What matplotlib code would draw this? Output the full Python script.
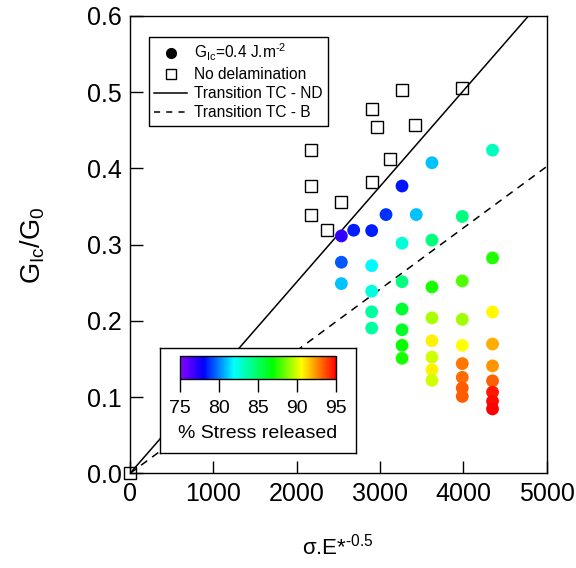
import matplotlib
matplotlib.use('Agg')
import matplotlib.pyplot as plt
import numpy as np
from matplotlib.colors import LinearSegmentedColormap, Normalize
from matplotlib.lines import Line2D

plt.rcParams['font.family'] = ['Liberation Sans', 'DejaVu Sans']
plt.rcParams['mathtext.fontset'] = 'custom'
plt.rcParams['mathtext.rm'] = 'Liberation Sans'
plt.rcParams['mathtext.it'] = 'Liberation Sans'

# points sans delamination (carres vides)
nd_x = [0, 2170, 2170, 2170, 2360, 2536, 2900, 2968, 2900, 3120, 3264, 3420, 3987]
nd_y = [0.0, 0.424, 0.377, 0.339, 0.319, 0.356, 0.4775, 0.454, 0.382, 0.413, 0.503, 0.457, 0.505]

# points Glc = 0.4 J.m-2 (cercles colores)
gc_x = [2536, 2536, 2536,
        2684,
        2900, 2900, 2900, 2900, 2900,
        3072,
        3264, 3264, 3264, 3264, 3264, 3264, 3264,
        3435,
        3623, 3623, 3623, 3623, 3623, 3623, 3623, 3623,
        3987, 3987, 3987, 3987, 3987, 3987, 3987, 3987,
        4350, 4350, 4350, 4350, 4350, 4350, 4350, 4350, 4350]
gc_y = [0.3115, 0.277, 0.249,
        0.319,
        0.3185, 0.2725, 0.239, 0.212, 0.1906,
        0.3395,
        0.377, 0.302, 0.2515, 0.2156, 0.1884, 0.168, 0.151,
        0.3395,
        0.4075, 0.306, 0.2445, 0.204, 0.174, 0.1525, 0.136, 0.122,
        0.337, 0.2525, 0.202, 0.168, 0.144, 0.126, 0.112, 0.101,
        0.424, 0.2826, 0.2117, 0.1697, 0.141, 0.1214, 0.1066, 0.0947, 0.0846]
stress = [77.0, 79.3, 81.0,
          78.5,
          78.5, 81.8, 82.5, 83.8, 83.8,
          78.8,
          78.3, 82.7, 84.3, 85.9, 86.1, 87.0, 87.2,
          81.0,
          81.0, 84.5, 87.2, 89.3, 90.8, 89.9, 90.8, 89.9,
          84.4, 88.0, 89.2, 90.6, 92.9, 93.1, 93.4, 93.4,
          83.2, 87.3, 90.7, 92.0, 92.4, 93.3, 94.6, 94.8, 95.0]

# droites de transition (passent par l'origine)
pente_nd = 1.255e-4
pente_b = 8.05e-5

cmap = LinearSegmentedColormap.from_list('arcenciel', [
    (0.0, (0.55, 0.0, 1.0)),
    (0.15, (0.0, 0.0, 1.0)),
    (0.345, (0.0, 1.0, 1.0)),
    (0.594, (0.0, 1.0, 0.0)),
    (0.78, (1.0, 1.0, 0.0)),
    (1.0, (1.0, 0.0, 0.0))])
norm = Normalize(75, 95)

fig = plt.figure(figsize=(5.76, 5.68), dpi=100)
ax = fig.add_axes([130 / 576, 1 - 473.4 / 568, 416.7 / 576, 457.4 / 568])

xx = np.array([0, 5000])
ax.plot(xx, pente_nd * xx, color='black', lw=1.1, zorder=1)
ax.plot(xx, pente_b * xx, color='black', lw=1.1, ls=(0, (5, 4)), zorder=1)

ax.scatter(gc_x, gc_y, c=stress, cmap=cmap, norm=norm, s=85, edgecolors='none', zorder=3)
ax.plot(nd_x, nd_y, 's', ms=9, mfc='none', mec='black', mew=1.0, zorder=4, clip_on=False)

ax.set_xlim(0, 5000)
ax.set_ylim(0, 0.6)
ax.set_xticks([0, 1000, 2000, 3000, 4000, 5000])
ax.set_yticks([0.0, 0.1, 0.2, 0.3, 0.4, 0.5, 0.6])
ax.set_yticklabels(['0.0', '0.1', '0.2', '0.3', '0.4', '0.5', '0.6'])
ax.tick_params(direction='in', length=9, width=1, labelsize=18, pad=6)
ax.tick_params(axis='x', pad=6)
for sp in ax.spines.values():
    sp.set_linewidth(1)

ax.set_xlabel(r'$\sigma$.E*$^{\text{-0.5}}$', fontsize=16)
ax.xaxis.set_label_coords(0.5, -0.132)
ax.set_ylabel(r'G$_{\mathrm{Ic}}$/G$_0$', fontsize=19.5)
ax.yaxis.set_label_coords(-0.2, 0.5)

handles = [
    Line2D([], [], marker='o', ls='none', color='black', ms=7),
    Line2D([], [], marker='s', ls='none', mfc='none', mec='black', ms=7),
    Line2D([], [], color='black', lw=1.1),
    Line2D([], [], color='black', lw=1.1, ls=(0, (4, 4))),
]
labels = [r'G$_{\mathrm{Ic}}$=0.4 J.m$^{\text{-2}}$', 'No delamination',
          'Transition TC - ND', 'Transition TC - B']
leg = ax.legend(handles, labels, loc='upper left', bbox_to_anchor=(0.045, 0.955),
                fontsize=11.2, frameon=True, fancybox=False, framealpha=1,
                edgecolor='black', borderpad=0.35, labelspacing=0.25,
                handlelength=2.1, handletextpad=0.45, borderaxespad=0)
leg.get_frame().set_linewidth(1)

# boite de la barre de couleur
box = fig.add_axes([160 / 576, 1 - 453 / 568, 196 / 576, 105 / 568])
box.set_xticks([])
box.set_yticks([])
for sp in box.spines.values():
    sp.set_linewidth(1)

cax = fig.add_axes([180 / 576, 1 - 378.7 / 568, 156 / 576, 22.7 / 568])
sm = plt.cm.ScalarMappable(norm=norm, cmap=cmap)
cb = fig.colorbar(sm, cax=cax, orientation='horizontal', ticks=[75, 80, 85, 90, 95])
cb.outline.set_linewidth(1)
cax.tick_params(direction='out', length=9, width=1, labelsize=14, pad=6)
cax.set_xlabel('% Stress released', fontsize=14, labelpad=6)

fig.savefig('out.png', dpi=100)
